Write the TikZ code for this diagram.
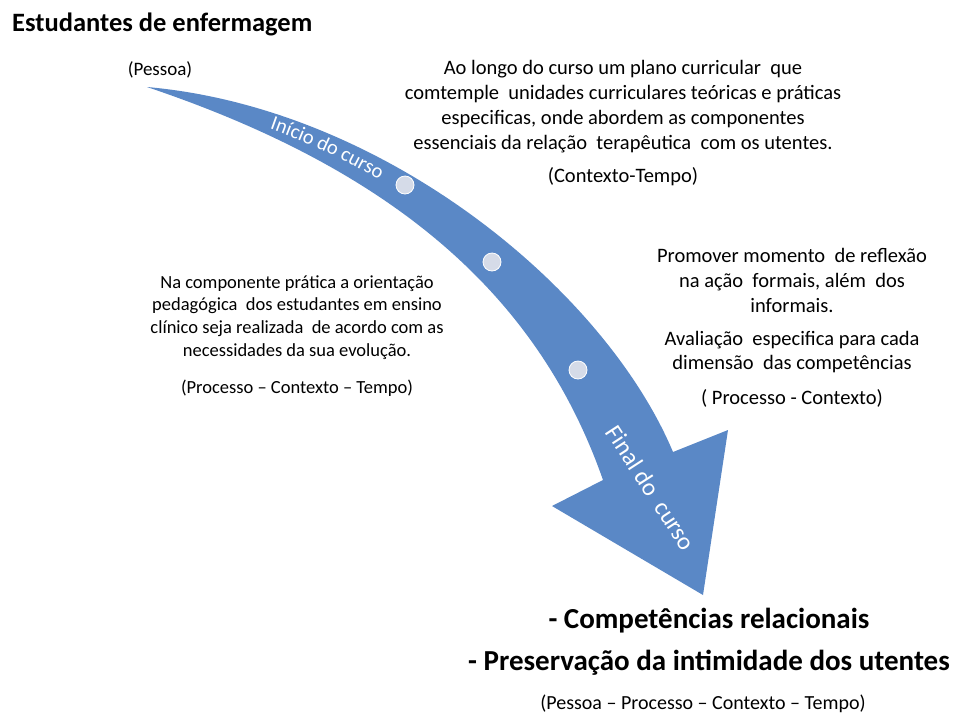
\documentclass[tikz,border=0pt]{standalone}
\usepackage{fontspec}
\setmainfont{Carlito}
\usetikzlibrary{positioning, decorations.text}
\definecolor{arrowblue}{HTML}{5A88C6}
\definecolor{dotfill}{HTML}{D5DBE8}
\tikzset{
  body/.style={font=\fontsize{20.5}{24.8}\selectfont, align=center, inner sep=0pt},
  big/.style={font=\bfseries\fontsize{29}{34}\selectfont, inner sep=0pt},
  lbl/.style={text=white, inner sep=0pt},
  dot/.style={circle, fill=dotfill, draw=white, thick, minimum size=18pt, inner sep=0pt}
}

\begin{document}
\begin{tikzpicture}[x=1pt, y=-1pt]
    \useasboundingbox (0,0) rectangle (959,716);

    \fill[arrowblue] (147,87) .. controls (385,108) and (605,290) .. (673,452)
        -- (728,430) -- (703,595) -- (552,506) -- (603,480)
        .. controls (540,300) and (400,172) .. (147,87) -- cycle;

    \node[dot] (d1) at (405,185) {};
    \node[dot] (d2) at (492,262) {};
    \node[dot] (d3) at (578,370) {};

    \path[decorate, decoration={text along path, text align=center,
        text={|\fontsize{20.5}{24}\selectfont\color{white}|Início do curso}}]
        (258,125) .. controls (298,138) and (340,157) .. (390,186);
    \node[lbl, rotate=-57, font=\fontsize{24.5}{28}\selectfont] (final) at (651,488) {Final do~ curso};

    \node[anchor=base west, inner sep=0pt, font=\bfseries\fontsize{26.5}{30}\selectfont] (title) at (12,31) {Estudantes de enfermagem};
    \node[inner sep=0pt, font=\fontsize{19}{22}\selectfont] (pessoa) at (160,70) {(Pessoa)};

    \node[body] (plano) at (623,123) {Ao longo do curso um plano curricular~ que\\
        comtemple~ unidades curriculares teóricas e práticas\\
        especificas, onde abordem as componentes\\
        essenciais da relação~ terapêutica~ com os utentes.\\[8pt]
        (Contexto-Tempo)};

    \node[body, font=\fontsize{18.5}{22.7}\selectfont] (pratica) at (297,336) {Na componente prática a orientação\\
        pedagógica~ dos estudantes em ensino\\
        clínico seja realizada~ de acordo com as\\
        necessidades da sua evolução.\\[15pt]
        (Processo – Contexto – Tempo)};

    \node[body] (reflexao) at (792,328) {Promover momento~ de reflexão\\
        na ação~ formais, além~ dos\\
        informais.\\[8pt]
        Avaliação~ especifica para cada\\
        dimensão~ das competências\\[10pt]
        ( Processo - Contexto)};

    \node[big] (comp) at (709,621) {- Competências relacionais};
    \node[big] (pres) at (709,663) {- Preservação da intimidade dos utentes};
    \node[inner sep=0pt, font=\fontsize{20}{24}\selectfont] (todos) at (703,704) {(Pessoa – Processo – Contexto – Tempo)};
\end{tikzpicture}
\end{document}
